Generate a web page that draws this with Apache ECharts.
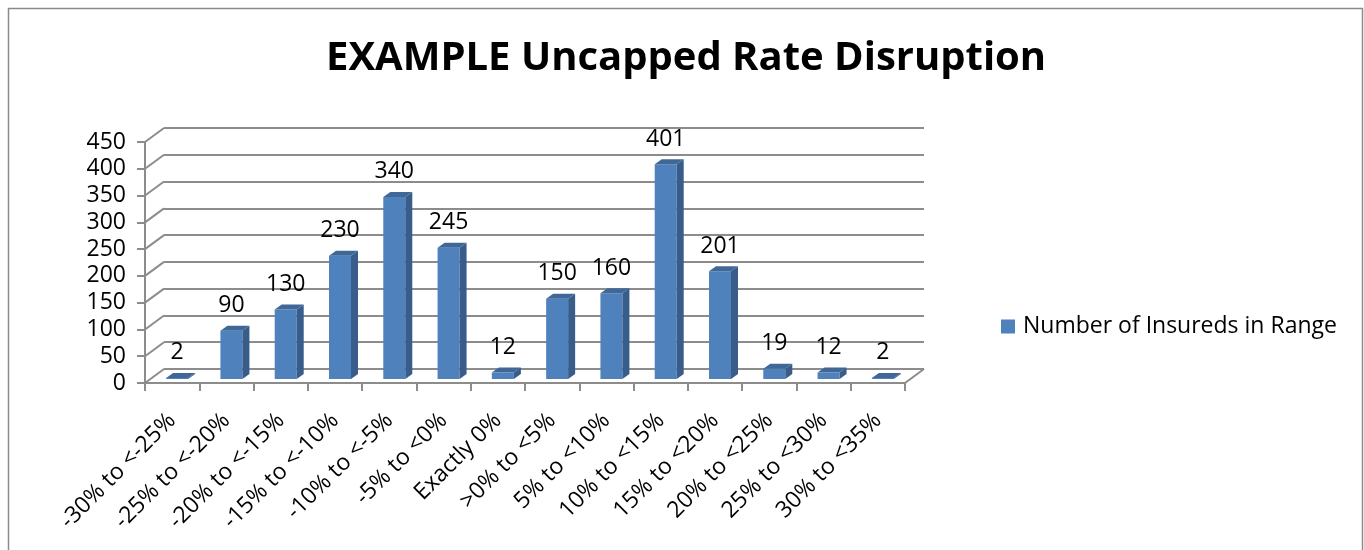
<!DOCTYPE html>
<html>
<head>
<meta charset="utf-8">
<script src="https://cdn.jsdelivr.net/npm/echarts@6/dist/echarts.min.js"></script>
<style>
  html, body { margin: 0; padding: 0; background: #fff; }
  #chart { width: 1364px; height: 550px; }
</style>
</head>
<body>
<div id="chart"></div>
<script>
// data
const categories = ['-30% to <-25%', '-25% to <-20%', '-20% to <-15%', '-15% to <-10%', '-10% to <-5%',
  '-5% to <0%', 'Exactly 0%', '>0% to <5%', '5% to <10%', '10% to <15%', '15% to <20%',
  '20% to <25%', '25% to <30%', '30% to <35%']
const insureds = [2, 90, 130, 230, 340, 245, 12, 150, 160, 401, 201, 19, 12, 2]
const yTicks = [0, 50, 100, 150, 200, 250, 300, 350, 400, 450]
const seriesName = 'Number of Insureds in Range'

// fake 3d: back wall shift, bar depth
const DX = 19
const DY = 14
const BAR_W = 22
const BAR_DX = 7
const BAR_DY = 5
const FONT = 'Open Sans'
const TEXT_SIZE = 23
const GRID_COLOR = '#8c8c8c'

const chart = echarts.init(document.getElementById('chart'))

chart.setOption({
  animation: false,
  backgroundColor: '#fff',
  title: {
    text: 'EXAMPLE Uncapped Rate Disruption',
    left: 321,
    top: 34,
    textStyle: { fontFamily: FONT, fontWeight: 'bold', fontSize: 40, color: '#000' }
  },
  legend: {
    data: [seriesName],
    left: 1001,
    top: 315,
    padding: 0,
    icon: 'rect',
    itemWidth: 14,
    itemHeight: 14,
    selectedMode: false,
    textStyle: { fontFamily: FONT, fontSize: TEXT_SIZE, color: '#000', padding: [0, 0, 0, 3] }
  },
  graphic: [
    {
      type: 'rect',
      shape: { x: 8.5, y: 8.5, width: 1354, height: 620 },
      style: { fill: null, stroke: '#8a8a8a', lineWidth: 1.5 },
      silent: true
    }
  ],
  grid: [
    // front
    { left: 145, right: 459, top: 142, bottom: 167 },
    // back wall
    { left: 145 + DX, right: 459 - DX, top: 142 - DY, bottom: 167 + DY }
  ],
  xAxis: [
    {
      type: 'category',
      gridIndex: 0,
      data: categories,
      axisLine: { show: true, lineStyle: { color: GRID_COLOR, width: 2 } },
      axisTick: { show: true, interval: 0, length: 8, lineStyle: { color: GRID_COLOR, width: 2 } },
      axisLabel: { interval: 0, rotate: 45, margin: 34, color: '#000', fontFamily: FONT, fontSize: TEXT_SIZE },
      splitLine: { show: false }
    },
    {
      type: 'category',
      gridIndex: 1,
      data: categories,
      show: false
    }
  ],
  yAxis: [
    {
      type: 'value',
      gridIndex: 0,
      min: 0,
      max: 450,
      interval: 50,
      axisLine: { show: true, lineStyle: { color: GRID_COLOR, width: 2 } },
      axisTick: { show: true, length: 8, lineStyle: { color: GRID_COLOR, width: 2 } },
      axisLabel: { margin: 19, color: '#000', fontFamily: FONT, fontSize: TEXT_SIZE },
      splitLine: { show: false }
    },
    {
      type: 'value',
      gridIndex: 1,
      min: 0,
      max: 450,
      interval: 50,
      axisLine: { show: false },
      axisTick: { show: false },
      axisLabel: { show: false },
      splitLine: { show: true, lineStyle: { color: GRID_COLOR, width: 2 } }
    }
  ],
  series: [
    {
      // side wall / floor edges joining front axis to back wall
      type: 'custom',
      xAxisIndex: 0,
      yAxisIndex: 0,
      silent: true,
      data: yTicks.map(v => [0, v]),
      renderItem (params, api) {
        const cs = params.coordSys
        const y = api.coord([0, api.value(1)])[1]
        const children = [{
          type: 'line',
          shape: { x1: cs.x, y1: y, x2: cs.x + DX, y2: y - DY },
          style: { stroke: GRID_COLOR, lineWidth: 2 }
        }]
        if (api.value(1) === 0) {
          children.push({
            type: 'line',
            shape: { x1: cs.x + cs.width, y1: y, x2: cs.x + cs.width + DX, y2: y - DY },
            style: { stroke: GRID_COLOR, lineWidth: 2 }
          })
        }
        return { type: 'group', children }
      }
    },
    {
      name: seriesName,
      type: 'custom',
      xAxisIndex: 0,
      yAxisIndex: 0,
      itemStyle: { color: '#4F81BD' },
      data: insureds.map((v, i) => [i, v]),
      renderItem (params, api) {
        const base = api.coord([api.value(0), 0])
        const top = api.coord([api.value(0), api.value(1)])
        const cx = base[0] + 5
        const xl = cx - BAR_W / 2
        const xr = cx + BAR_W / 2
        const yb = base[1] - 4
        const yt = Math.min(top[1] - 4, yb - 1)
        return {
          type: 'group',
          children: [
            {
              type: 'rect',
              shape: { x: xl, y: yt, width: BAR_W, height: yb - yt },
              style: { fill: '#4F81BD' }
            },
            {
              type: 'polygon',
              shape: { points: [[xr, yt], [xr + BAR_DX, yt - BAR_DY], [xr + BAR_DX, yb - BAR_DY], [xr, yb]] },
              style: { fill: '#385D8A' }
            },
            {
              type: 'polygon',
              shape: { points: [[xl, yt], [xl + BAR_DX, yt - BAR_DY], [xr + BAR_DX, yt - BAR_DY], [xr, yt]] },
              style: { fill: '#3F6898' }
            },
            {
              type: 'text',
              style: {
                x: cx,
                y: yt - 25,
                text: String(api.value(1)),
                fill: '#000',
                font: TEXT_SIZE + 'px ' + FONT,
                align: 'center',
                verticalAlign: 'middle'
              }
            }
          ]
        }
      }
    }
  ]
})
</script>
</body>
</html>
